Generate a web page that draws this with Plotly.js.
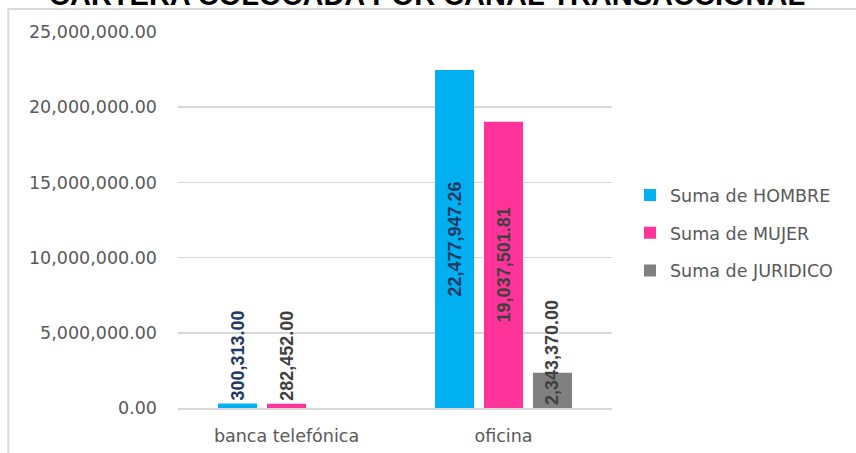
<!DOCTYPE html>
<html>
<head>
<meta charset="utf-8">
<script src="https://cdn.plot.ly/plotly-3.0.1.min.js"></script>
<style>
  html, body { margin: 0; padding: 0; background: #ffffff; }
  #chart { width: 856px; height: 453px; }
</style>
</head>
<body>
<div id="chart"></div>
<script>
// ---- data ----
const categories = ["banca telefónica", "oficina"];
const hombre = [300313.00, 22477947.26];
const mujer = [282452.00, 19037501.81];
const juridico = [null, 2343370.00];
const seriesNames = ["Suma de HOMBRE", "Suma de MUJER", "Suma de JURIDICO"];
const yTicks = [0, 5000000, 10000000, 15000000, 20000000, 25000000];
const chartTitle = "CARTERA COLOCADA POR CANAL TRANSACCIONAL";

const labelFont = {family: "Liberation Sans, Arial, sans-serif", size: 18};

function barTrace(name, values, color, labelColor, positions, anchor, group) {
  const f = Object.assign({}, labelFont, {color: labelColor, weight: 700});
  return {
    type: "bar",
    name: name,
    x: categories,
    y: values,
    marker: {color: color},
    texttemplate: "<b>%{y:,.2f}</b>",
    textposition: positions,
    insidetextanchor: anchor,
    textangle: -90,
    constraintext: "none",
    cliponaxis: false,
    textfont: f,
    insidetextfont: f,
    outsidetextfont: f,
    legendgroup: group,
    hoverinfo: "skip"
  };
}

const traces = [
  barTrace(seriesNames[0], hombre, "#00B0F0", "#1F3864", ["outside", "inside"], "middle", "g1"),
  barTrace(seriesNames[1], mujer, "#FF3399", "#404040", ["outside", "inside"], "middle", "g2"),
  barTrace(seriesNames[2], juridico, "#808080", "#404040", ["inside", "inside"], "start", "g3")
];

const tickFont = {family: "DejaVu Sans, Arial, sans-serif", size: 17.5, color: "#595959"};

const layout = {
  width: 856,
  height: 453,
  paper_bgcolor: "#ffffff",
  plot_bgcolor: "#ffffff",
  margin: {l: 178, r: 244, t: 32, b: 45, pad: 0},
  barmode: "group",
  bargap: 0.323,
  bargroupgap: 0.204,
  showlegend: true,
  legend: {
    x: 630 / 856, y: 0.465,
    xref: "container",
    yanchor: "middle",
    xanchor: "left",
    traceorder: "grouped",
    tracegroupgap: 12,
    itemwidth: 30,
    font: {family: "DejaVu Sans, Arial, sans-serif", size: 17.5, color: "#595959"},
    bgcolor: "rgba(0,0,0,0)"
  },
  xaxis: {
    type: "category",
    tickfont: tickFont,
    showgrid: false,
    showline: true,
    linecolor: "#d9d9d9",
    linewidth: 1.5,
    ticks: "",
    ticklabelstandoff: 11,
    fixedrange: true
  },
  yaxis: {
    range: [0, 25000000],
    tickvals: yTicks,
    tickformat: ",.2f",
    tickfont: tickFont,
    showgrid: true,
    gridcolor: "#d9d9d9",
    gridwidth: 1.5,
    zeroline: false,
    showline: false,
    ticks: "",
    ticklabelstandoff: 20,
    fixedrange: true
  },
  shapes: [{
    type: "rect",
    xref: "paper", yref: "paper",
    x0: -0.391, x1: 1.6, y0: -0.3, y1: 1.0612,
    line: {color: "#d9d9d9", width: 2},
    fillcolor: "rgba(0,0,0,0)",
    layer: "above"
  }],
  annotations: [{
    text: "<b>" + chartTitle + "</b>",
    xref: "paper", yref: "paper",
    x: 0.574, y: 1.0505,
    xanchor: "center", yanchor: "bottom",
    showarrow: false,
    font: {family: "Liberation Sans, Arial, sans-serif", size: 29, color: "#000000"}
  }]
};

Plotly.newPlot("chart", traces, layout, {displayModeBar: false, staticPlot: true});
</script>
</body>
</html>
